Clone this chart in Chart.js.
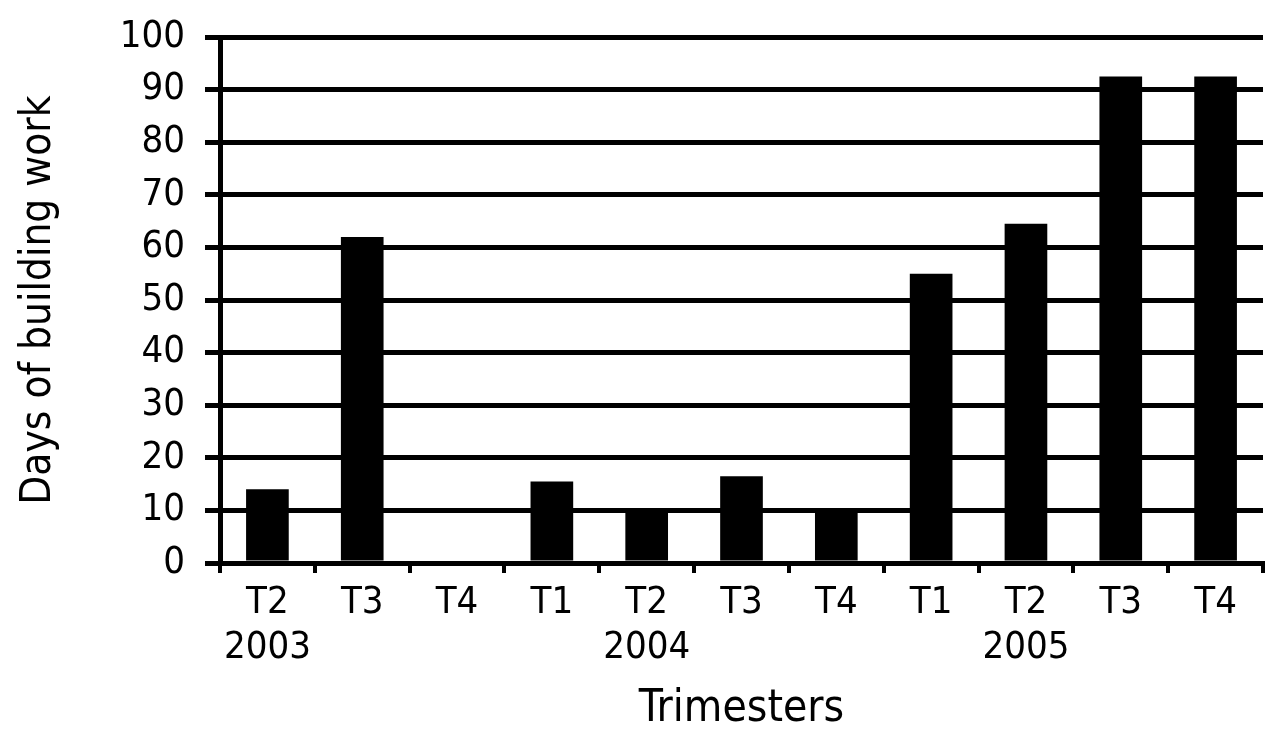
<!DOCTYPE html>
<html>
<head>
<meta charset="utf-8">
<script src="https://cdn.jsdelivr.net/npm/chart.js@4/dist/chart.umd.min.js"></script>
<style>
  html, body { margin: 0; padding: 0; background: #fff; }
  #chart { display: block; }
</style>
</head>
<body>
<canvas id="chart" width="1280" height="748"></canvas>
<script>
const quarters = ["T2", "T3", "T4", "T1", "T2", "T3", "T4", "T1", "T2", "T3", "T4"];
const years = ["2003", "", "", "", "2004", "", "", "", "2005", "", ""];
const days = [14, 62, 0, 15.5, 10, 16.5, 10, 55, 64.5, 92.5, 92.5];
const yTicks = [0, 10, 20, 30, 40, 50, 60, 70, 80, 90, 100];

const font = "'Liberation Sans Narrow', 'Arial Narrow', 'DejaVu Sans Condensed', sans-serif";

window.addEventListener("DOMContentLoaded", () => {
  const labels = quarters.map((q, i) => [q, years[i]]);
  new Chart(document.getElementById("chart"), {
    type: "bar",
    data: {
      labels: labels,
      datasets: [{ data: days, backgroundColor: "#000", borderWidth: 0, barPercentage: 0.45, categoryPercentage: 1 }]
    },
    options: {
      responsive: false,
      animation: false,
      layout: { padding: { top: 37, right: 17, left: 0, bottom: 0 } },
      plugins: { legend: { display: false }, tooltip: { enabled: false } },
      scales: {
        x: {
          offset: true,
          grid: { offset: true, drawOnChartArea: false, color: "#000", lineWidth: 4, tickLength: 10 },
          border: { display: true, color: "#000", width: 5 },
          ticks: { color: "#000", font: { family: font, size: 38 }, padding: 7, maxRotation: 0, autoSkip: false },
          title: { display: true, text: "Trimesters", color: "#000", font: { family: font, size: 44 }, padding: { top: 0, bottom: 12 } },
          afterFit: s => { s.height = 185; }
        },
        y: {
          min: 0, max: 100,
          afterBuildTicks: s => { s.ticks = yTicks.map(v => ({ value: v })); },
          grid: { color: "#000", lineWidth: 5, tickLength: 15 },
          border: { display: true, color: "#000", width: 5 },
          ticks: { color: "#000", font: { family: font, size: 38 }, padding: 20 },
          title: { display: true, text: "Days of building work", color: "#000", font: { family: font, size: 42 }, padding: { top: 14, bottom: 0 } },
          afterFit: s => { s.width = 220; s.paddingTop = 0; s.paddingBottom = 0; }
        }
      }
    }
  });
});
</script>
</body>
</html>
